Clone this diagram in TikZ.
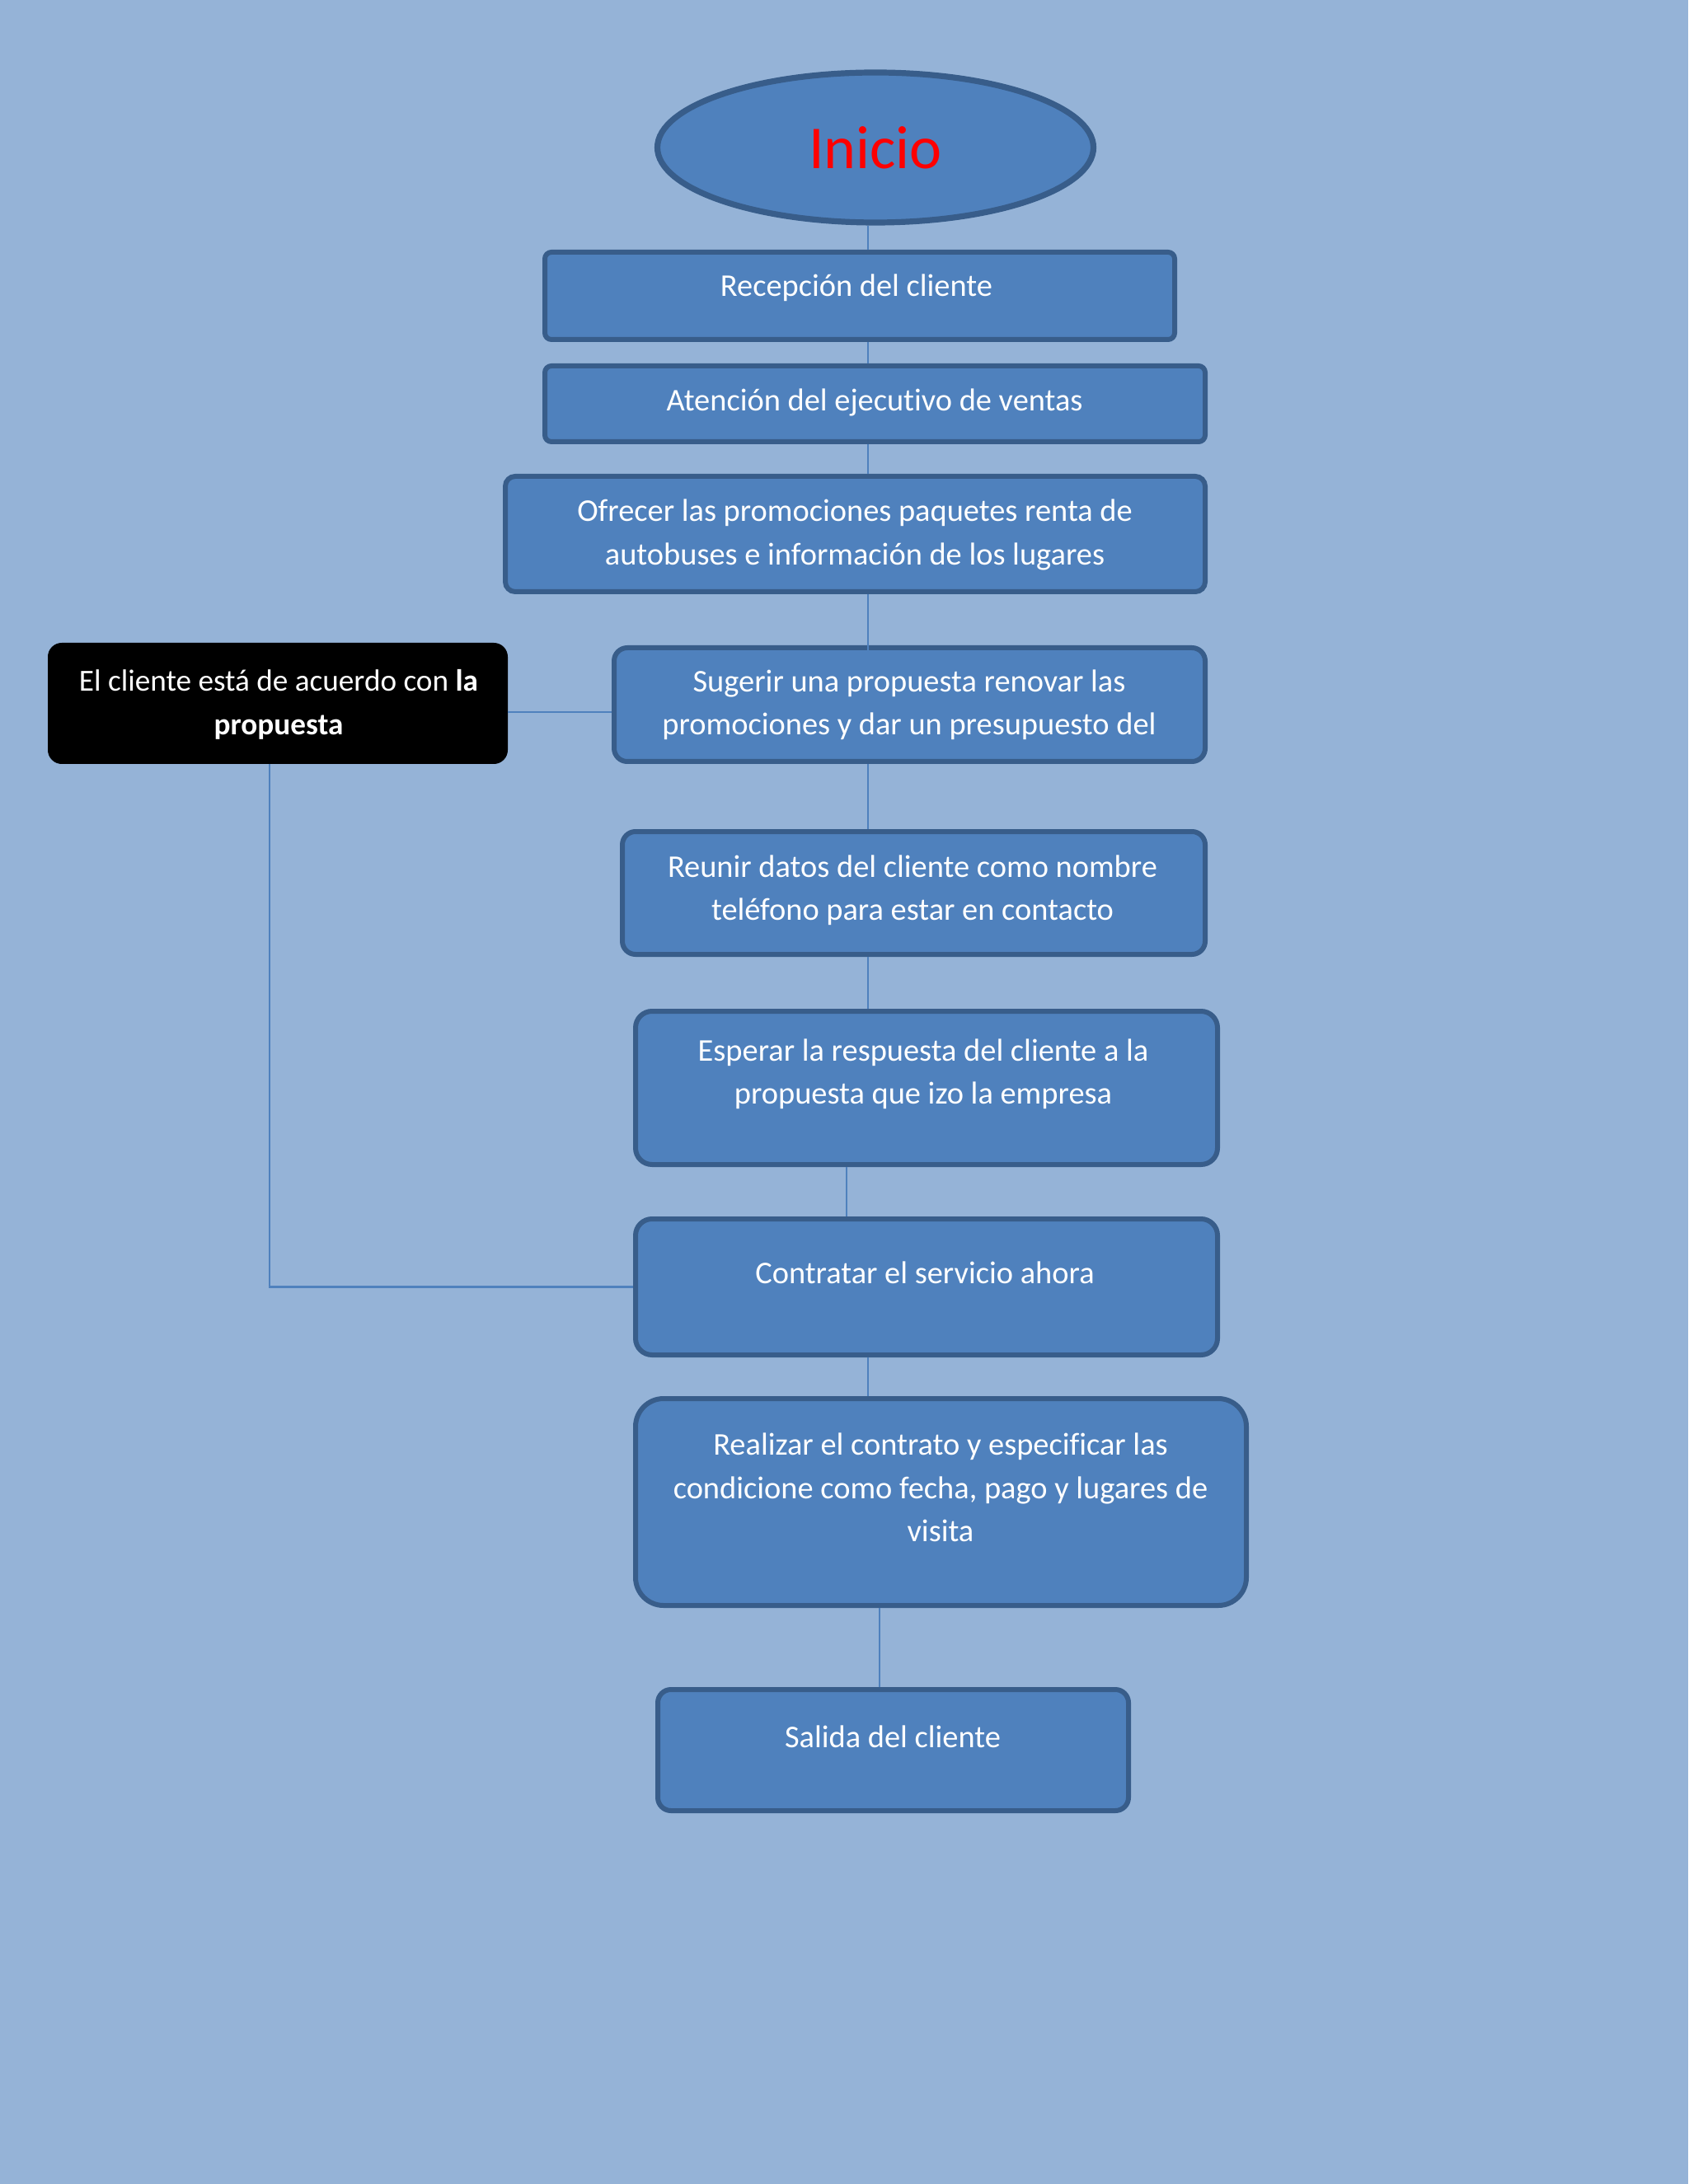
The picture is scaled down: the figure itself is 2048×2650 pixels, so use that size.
\documentclass[tikz,border=0pt]{standalone}
\usepackage{fontspec}
\setmainfont{Carlito}[Ligatures=NoCommon]
\usetikzlibrary{shapes.geometric}
\definecolor{bgblue}{HTML}{95B3D7}
\definecolor{boxfill}{HTML}{4F81BD}
\definecolor{boxline}{HTML}{385D8A}
\definecolor{connblue}{HTML}{4F81BD}
\begin{document}
\begin{tikzpicture}[x=0.25pt,y=-0.25pt,
  stepbox/.style={draw=boxline, fill=boxfill, line width=1.5pt, rounded corners=#1, inner sep=0pt},
  stepbox/.default=4pt,
  blackbox/.style={draw=black, fill=black, line width=0.5pt, rounded corners=4pt, inner sep=0pt},
  txt/.style={text=white, font=\fontsize{9.6}{13.1}\selectfont, align=center, inner sep=0pt},
  connector/.style={draw=connblue, line width=0.55pt}]
\fill[bgblue] (0,0) rectangle (2048,2650);
\useasboundingbox (0,0) rectangle (2048,2650);

\coordinate (sp) at (1053,0);
\coordinate (sp6) at (1027,0);
\coordinate (sp8) at (1067,0);
\coordinate (lx) at (327,0);
\coordinate (hy) at (0,864);
\coordinate (inb4) at (1053,845);

% boxes
\node[ellipse, draw=boxline, fill=boxfill, line width=1.8pt, minimum width=132.25pt, minimum height=45.5pt, inner sep=0pt,
      text=red, font=\fontsize{18.5}{22}\selectfont] (e) at (1062,179) {Inicio};
\node[stepbox=2pt, minimum width=191pt, minimum height=26.5pt] (b1) at (1043,359) {};
\node[stepbox=2pt, minimum width=200.25pt, minimum height=23pt] (b2) at (1061.5,490) {};
\node[stepbox=3pt, minimum width=212.25pt, minimum height=35pt] (b3) at (1037.5,648) {};
\node[stepbox=4pt, minimum width=179.25pt, minimum height=34.5pt] (b4) at (1103.5,855) {};
\node[blackbox, minimum width=139pt, minimum height=36.25pt] (bk) at (337,853.5) {};
\node[stepbox=4pt, minimum width=176.75pt, minimum height=37.25pt] (b5) at (1108.5,1083.5) {};
\node[stepbox=5pt, minimum width=176.5pt, minimum height=46.5pt] (b6) at (1124,1320) {};
\node[stepbox=5pt, minimum width=176.5pt, minimum height=41.25pt] (b7) at (1124,1561.5) {};
\node[stepbox=8.5pt, minimum width=185.25pt, minimum height=62.75pt] (b8) at (1141.5,1822.5) {};
\node[stepbox=4pt, minimum width=142.75pt, minimum height=36.75pt] (b9) at (1083.5,2123.5) {};

% connectors
\draw[connector] (e.south -| sp) -- (b1.north -| sp);
\draw[connector] (b1.south -| sp) -- (b2.north -| sp);
\draw[connector] (b2.south -| sp) -- (b3.north -| sp);
\draw[connector] (b3.south -| sp) -- (inb4);
\draw[connector] (b4.south -| sp) -- (b5.north -| sp);
\draw[connector] (b5.south -| sp) -- (b6.north -| sp);
\draw[connector] (b6.south -| sp6) -- (b7.north -| sp6);
\draw[connector] (b7.south -| sp) -- (b8.north -| sp);
\draw[connector] (b8.south -| sp8) -- (b9.north -| sp8);
\draw[connector] (bk.east |- hy) -- (b4.west |- hy);
\draw[connector] (bk.south -| lx) |- (b7.west);

% texts
\node[txt] (t1) at (1039,349) {Recepción del cliente};
\node[txt] (t2) at (1061,488) {Atención del ejecutivo de ventas};
\node[txt] (t3) at (1037,649) {Ofrecer las promociones paquetes renta de\\autobuses e información de los lugares};
\node[txt] (t4) at (1103,855) {Sugerir una propuesta renovar las\\promociones y dar un presupuesto del};
\node[txt, font=\fontsize{9.3}{13.1}\selectfont] (tk) at (338,855) {El cliente está de acuerdo con \textbf{la}\\\textbf{propuesta}};
\node[txt] (t5) at (1107,1080) {Reunir datos del cliente como nombre\\teléfono para estar en contacto};
\node[txt] (t6) at (1120,1303) {Esperar la respuesta del cliente a la\\propuesta que izo la empresa};
\node[txt] (t7) at (1122,1544) {Contratar el servicio ahora};
\node[txt] (t8) at (1141,1805) {Realizar el contrato y especificar las\\condicione como fecha, pago y lugares de\\visita};
\node[txt] (t9) at (1083,2107) {Salida del cliente};
\end{tikzpicture}
\end{document}
